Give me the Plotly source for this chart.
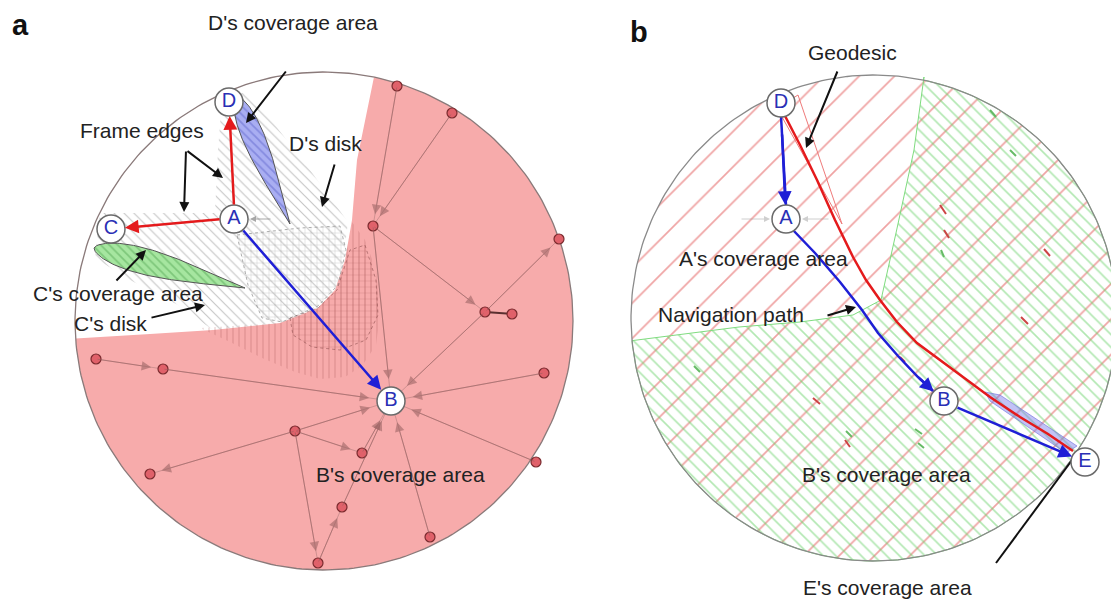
import numpy as np
import plotly.graph_objects as go

W, H = 1119, 600
OFF = 8  # page body margin in the viewer
FONT = "Liberation Sans, Arial, sans-serif"

# ---------------- data (pixel-space diagram coordinates) ----------------
# Poincare disks
disk_a = (324, 321, 249)
disk_b = (874, 318, 243)

# labelled nodes
a_labels = ["A", "B", "C", "D"]
a_lx = [234, 391, 111, 229]
a_ly = [219, 401, 229, 102]
b_labels = ["D", "A", "B", "E"]
b_lx = [781, 786, 944, 1085]
b_ly = [103, 219, 401, 462]

# red (other) nodes in panel a
red_x = [397, 452, 373, 559, 485, 512, 96, 163, 544, 295, 362, 150, 536, 342, 430, 318]
red_y = [86, 113, 226, 239, 312, 314, 359, 369, 373, 431, 453, 474, 462, 507, 537, 563]
# graph edges (source, target); "B" = labelled node B
edge_src = [0, 1, 2, 2, 4, 4, 6, 7, 8, 9, 9, 9, 10, 13, 15, 14, 12, 9]
edge_dst = [2, 2, "B", 4, 3, "B", 7, "B", "B", "B", 11, 15, "B", "B", 13, "B", "B", 10]

# panel a regions
white_bx = [374, 365, 357, 352, 345, 335, 318, 280, 213, 150, 82]
white_by = [77, 120, 160, 220, 260, 290, 308, 323, 330, 334, 338]
disk_hx = [100, 215, 218, 222, 245, 275, 310, 348, 343, 335, 318, 280, 213, 178, 130, 95]
disk_hy = [213, 213, 150, 100, 92, 125, 170, 222, 262, 290, 308, 323, 330, 305, 280, 258]
cross_gx = [237, 300, 340, 346, 338, 318, 282, 262, 248]
cross_gy = [235, 228, 226, 250, 285, 306, 322, 318, 285]
pinkh_x = [200, 280, 318, 337, 345, 352, 365, 376, 380, 376, 362, 345, 320, 295, 262, 230]
pinkh_y = [328, 323, 308, 290, 260, 222, 240, 270, 315, 345, 366, 377, 379, 372, 358, 342]
pinkc_x = [290, 318, 337, 350, 365, 376, 378, 366, 340, 312, 293]
pinkc_y = [318, 308, 290, 250, 245, 280, 315, 340, 350, 347, 335]

# coverage teardrops: start, end, half-width
covD = ((236, 96), (290, 224), 11)
covC = ((94, 248), (245, 288), 13)

# panel b regions / paths
green_bx = [924, 914, 896, 881, 853, 800, 739, 639]
green_by = [77, 150, 233, 300, 315, 322, 327, 340]
geo_x = [783, 800, 817, 835, 853, 866, 880, 897, 917, 940, 965, 990, 1020, 1048, 1073]
geo_y = [112, 145, 180, 220, 257, 280, 300, 322, 343, 360, 378, 397, 417, 434, 451]
nav_x = [792, 815, 840, 862, 878, 898, 918, 933]
nav_y = [229, 253, 282, 310, 333, 356, 377, 391]
wedge_x = [777, 842, 798]
wedge_y = [108, 224, 95]
ecov_x = [985, 1000, 1077, 1066, 990]
ecov_y = [392, 395, 446, 453, 401]
# faint residual edge dashes in panel b: (x0, y0, x1, y1, colour)
dashes = [
    (940, 205, 946, 214, "#cc4444"), (944, 230, 949, 238, "#cc4444"), (941, 250, 944, 257, "#66bb66"),
    (1010, 150, 1016, 156, "#66bb66"), (990, 110, 996, 117, "#66bb66"), (694, 366, 700, 372, "#66bb66"),
    (846, 431, 852, 437, "#66bb66"), (845, 440, 850, 447, "#cc4444"), (915, 429, 922, 434, "#66bb66"),
    (918, 443, 924, 448, "#66bb66"), (900, 357, 905, 362, "#cc4444"), (1021, 317, 1028, 324, "#cc4444"),
    (1044, 249, 1050, 256, "#cc4444"), (813, 398, 820, 404, "#cc4444"),
]

# text labels
texts = [
    ("D's coverage area", 293, 22), ("Frame edges", 142, 130), ("D's disk", 325, 143),
    ("C's coverage area", 118, 293), ("C's disk", 110, 323), ("B's coverage area", 400, 474),
    ("Geodesic", 852, 52), ("A's coverage area", 763, 258), ("Navigation path", 731, 314),
    ("B's coverage area", 886, 474), ("E's coverage area", 887, 587),
]
# black pointer arrows: (tail_x, tail_y, head_x, head_y)
pointers = [
    (287, 70, 246, 123), (186, 150, 184, 212), (186, 150, 223, 178), (335, 163, 322, 207),
    (115, 282, 146, 250), (150, 318, 205, 305), (838, 70, 806, 148), (826, 316, 856, 307),
]

# ---------------- helpers ----------------
def arc(cx, cy, r, a0, a1, n=200):
    t = np.linspace(a0, a1, n)
    return list(cx + r * np.cos(t)), list(cy + r * np.sin(t))

def ang(cx, cy, x, y):
    return np.arctan2(y - cy, x - cx)

def teardrop(p0, p1, w):
    p0, p1 = np.array(p0, float), np.array(p1, float)
    t = np.linspace(0, 1, 80)
    d = p1 - p0
    nrm = np.array([-d[1], d[0]]) / np.hypot(*d)
    hw = w * np.sin(np.pi * t ** 0.6)
    pts = p0[None, :] + t[:, None] * d[None, :]
    left = pts + hw[:, None] * nrm
    right = (pts - hw[:, None] * nrm)[::-1]
    allp = np.vstack([left, right])
    return list(allp[:, 0]), list(allp[:, 1])

fig = go.Figure()

def poly(x, y, fill="rgba(0,0,0,0)", line="rgba(0,0,0,0)", lw=0, pattern=None, dash=None):
    kw = dict(x=list(x) + [x[0]], y=list(y) + [y[0]], mode="lines", fill="toself",
              fillcolor=fill, line=dict(color=line, width=lw, dash=dash),
              hoverinfo="skip", showlegend=False)
    if pattern:
        kw["fillpattern"] = pattern
    fig.add_trace(go.Scatter(**kw))

def line(x, y, color, w=1, dash=None):
    fig.add_trace(go.Scatter(x=x, y=y, mode="lines", line=dict(color=color, width=w, dash=dash),
                             hoverinfo="skip", showlegend=False))

annotations = []

def arrow(x0, y0, x1, y1, color, width=1.5, size=1.0, head=2, standoff=0, side="end"):
    annotations.append(dict(x=x1, y=y1, ax=x0, ay=y0, xref="x", yref="y", axref="x", ayref="y",
                            text="", showarrow=True, arrowhead=head, arrowsize=size,
                            arrowwidth=width, arrowcolor=color, standoff=standoff,
                            startstandoff=0, arrowside=side))

# ---------------- panel a ----------------
cx, cy, r = disk_a
ax_, ay_ = arc(cx, cy, r, 0, 2 * np.pi, 300)
poly(ax_, ay_, fill="#f7abab")
# white (uncovered) region
a0 = ang(cx, cy, white_bx[-1], white_by[-1])
a1 = ang(cx, cy, white_bx[0], white_by[0]) + 2 * np.pi
arx, ary = arc(cx, cy, r, a0, a1, 120)
poly(white_bx + arx, white_by + ary, fill="white")
# disk hatch
poly(disk_hx, disk_hy, pattern=dict(shape="\\", fgcolor="#8c8c8c", size=7, solidity=0.16))
poly(cross_gx, cross_gy, line="#999", lw=0.8, dash="dot",
     pattern=dict(shape="+", fgcolor="#9a9a9a", size=6, solidity=0.16))
poly(pinkh_x, pinkh_y, pattern=dict(shape="|", fgcolor="rgba(140,55,55,0.6)", size=6, solidity=0.16))
poly(pinkc_x, pinkc_y, line="rgba(120,60,60,0.6)", lw=0.8, dash="dot",
     pattern=dict(shape="+", fgcolor="rgba(140,55,55,0.6)", size=6, solidity=0.16))
# circle outline
line(ax_, ay_, "#8a7a7a", 1.3)

# coverage teardrops
tx, ty = teardrop(*covD)
poly(tx, ty, fill="#a9aef2", line="#555", lw=1,
     pattern=dict(shape="\\", fgcolor="#6066cc", bgcolor="#a9aef2", size=6, solidity=0.3))
tx, ty = teardrop(*covC)
poly(tx, ty, fill="#a6e6a0", line="#555", lw=1,
     pattern=dict(shape="\\", fgcolor="#55a855", bgcolor="#a6e6a0", size=6, solidity=0.3))

# graph edges
bx_, by_ = a_lx[1], a_ly[1]
def npos(k):
    return (bx_, by_) if k == "B" else (red_x[k], red_y[k])
for s, d in zip(edge_src, edge_dst):
    (x0, y0), (x1, y1) = npos(s), npos(d)
    line([x0, x1], [y0, y1], "rgba(140,100,100,0.38)", 1)
    so = 22 if d == "B" else 12
    arrow(x0, y0, x1, y1, "rgba(150,95,95,0.55)", width=1, size=1.9, head=2, standoff=so)
line([red_x[4], red_x[5]], [red_y[4], red_y[5]], "#5a3030", 2)
# short grey arrow right of A
arrow(272, 219, 250, 219, "rgba(110,110,110,0.6)", width=1, size=1.2, head=2)

fig.add_trace(go.Scatter(x=red_x, y=red_y, mode="markers",
                         marker=dict(size=10, color="#e0616a", line=dict(color="#7a2a2e", width=1.2)),
                         hoverinfo="skip", showlegend=False))

# frame edges (red) and navigation (blue) in panel a
arrow(a_lx[0], a_ly[0] - 13, a_lx[3], a_ly[3], "#e41a1c", width=2.5, size=1.1, head=2, standoff=14)
arrow(a_lx[0] - 13, a_ly[0], a_lx[2], a_ly[2], "#e41a1c", width=2.5, size=1.1, head=2, standoff=14)
arrow(a_lx[0] + 8, a_ly[0] + 10, a_lx[1], a_ly[1], "#1f1fd6", width=2.5, size=1.1, head=2, standoff=15)

# ---------------- panel b ----------------
cx, cy, r = disk_b
bcx, bcy = arc(cx, cy, r, 0, 2 * np.pi, 300)
poly(bcx, bcy, fill="white",
     pattern=dict(shape="/", fgcolor="#e04a4a", bgcolor="white", size=25, solidity=0.07))
g0 = ang(cx, cy, green_bx[-1], green_by[-1])
g1 = ang(cx, cy, green_bx[0], green_by[0])
gx, gy = arc(cx, cy, r, g0, g1, 200)
poly(green_bx + gx, green_by + gy, line="#7fdc7f", lw=1,
     pattern=dict(shape="\\", fgcolor="#66d066", size=9, solidity=0.18))
line(bcx, bcy, "#8a8a8a", 1.3)
poly(wedge_x, wedge_y, line="#ef7a7a", lw=1)
poly(ecov_x, ecov_y, fill="rgba(120,120,235,0.45)", line="rgba(110,110,220,0.6)", lw=1)
for (x0, y0, x1, y1, c) in dashes:
    line([x0, x1], [y0, y1], c, 2)

# faint grey edges near A in panel b
arrow(740, 219, 770, 219, "rgba(150,150,150,0.45)", width=1, size=1.2)
arrow(830, 219, 802, 219, "rgba(150,150,150,0.45)", width=1, size=1.2)

line(geo_x, geo_y, "#e41a1c", 2.5)
line([b_lx[0], b_lx[1]], [b_ly[0] + 13, b_ly[1] - 14], "#1f1fd6", 2.5)
arrow(b_lx[0] + 1, b_ly[0] + 30, b_lx[1], b_ly[1], "#1f1fd6", width=2.5, size=1.1, head=2, standoff=14)
line(nav_x, nav_y, "#1f1fd6", 2.5)
arrow(nav_x[-2], nav_y[-2], b_lx[2], b_ly[2], "#1f1fd6", width=2.5, size=1.1, head=2, standoff=14)
arrow(b_lx[2] + 12, b_ly[2] + 6, b_lx[3], b_ly[3], "#1f1fd6", width=2.5, size=1.1, head=2, standoff=14)
line([996, 1078], [563, 452], "#111", 2)

# labelled nodes
for labs, xs, ys in ((a_labels, a_lx, a_ly), (b_labels, b_lx, b_ly)):
    fig.add_trace(go.Scatter(x=xs, y=ys, mode="markers+text", text=labs,
                             textposition="middle center",
                             textfont=dict(family=FONT, size=20, color="#2a2fb5"),
                             marker=dict(size=28, color="white", line=dict(color="#6a6a6a", width=1.5)),
                             hoverinfo="skip", showlegend=False))

# pointer arrows and texts
for (x0, y0, x1, y1) in pointers:
    arrow(x0, y0, x1, y1, "#111", width=2, size=1.0, head=2)
for t, x, y in texts:
    annotations.append(dict(x=x, y=y, xref="x", yref="y", text=t, showarrow=False,
                            font=dict(family=FONT, size=21, color="#222")))
annotations.append(dict(x=20, y=25, xref="x", yref="y", text="<b>a</b>", showarrow=False,
                        font=dict(family=FONT, size=29, color="#111")))
annotations.append(dict(x=639, y=32, xref="x", yref="y", text="<b>b</b>", showarrow=False,
                        font=dict(family=FONT, size=29, color="#111")))

fig.update_layout(
    width=W - OFF, height=H - OFF, margin=dict(l=0, r=0, t=0, b=0),
    paper_bgcolor="white", plot_bgcolor="white",
    xaxis=dict(range=[OFF, W], visible=False, fixedrange=True),
    yaxis=dict(range=[H, OFF], visible=False, fixedrange=True),
    annotations=annotations,
)
fig.write_html("out.html")
